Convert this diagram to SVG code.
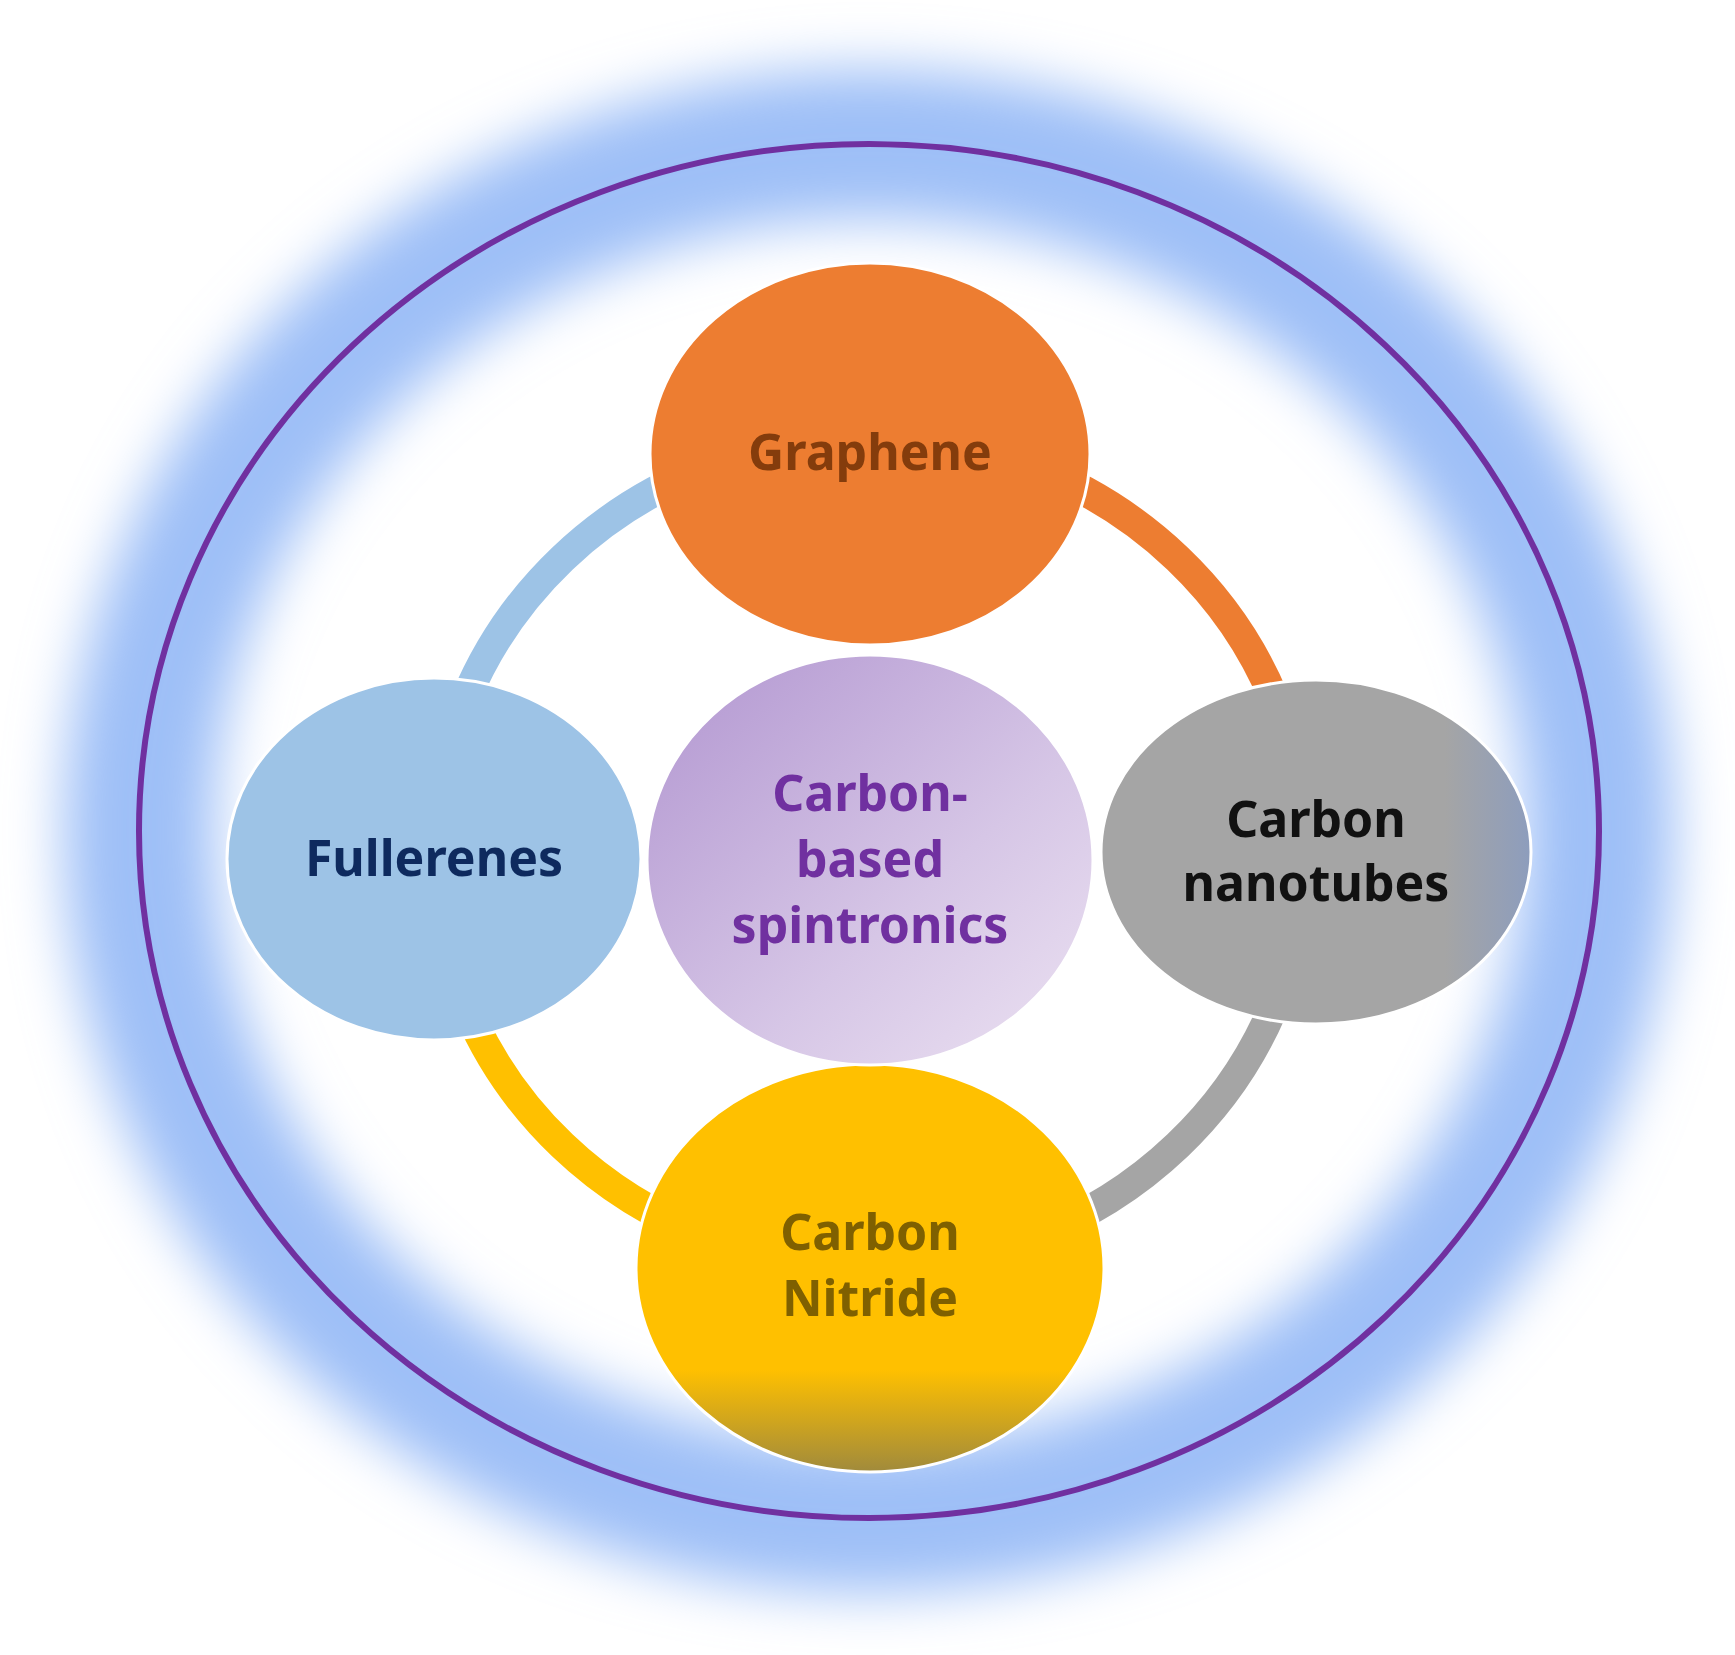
<svg xmlns="http://www.w3.org/2000/svg" width="1735" height="1655" viewBox="0 0 1735 1655">
<defs>
<filter id="blur" x="-20%" y="-20%" width="140%" height="140%"><feGaussianBlur stdDeviation="28"/></filter>
<linearGradient id="gc" x1="0" y1="0" x2="1" y2="1"><stop offset="0" stop-color="#b195d0"/><stop offset="0.6" stop-color="#d6c6e6"/><stop offset="1" stop-color="#ece2f2"/></linearGradient>
<linearGradient id="gn" x1="0" y1="0" x2="0" y2="1"><stop offset="0" stop-color="#ffc000"/><stop offset="0.75" stop-color="#ffc000"/><stop offset="1" stop-color="#a08a3c"/></linearGradient>
<linearGradient id="gt" x1="0" y1="0" x2="1" y2="0"><stop offset="0" stop-color="#a5a5a5"/><stop offset="0.8" stop-color="#a5a5a5"/><stop offset="1" stop-color="#8d9dbd"/></linearGradient>
<style>
text{font-family:"Noto Sans","Open Sans",sans-serif;font-weight:bold;font-size:50px;text-anchor:middle}
.node ellipse{stroke:#ffffff;stroke-width:3}
</style>
</defs>
<rect width="1735" height="1655" fill="#ffffff"/>
<ellipse cx="869" cy="831" rx="730" ry="687" fill="none" stroke="#9ebff7" stroke-width="150" filter="url(#blur)"/>
<ellipse cx="869" cy="831" rx="730" ry="687" fill="none" stroke="#7030a0" stroke-width="6"/>
<g id="connectors" fill="none" stroke-width="30">
<path d="M 435 852 A 435 415 0 0 1 870 437" stroke="#9dc3e6"/>
<path d="M 870 437 A 435 415 0 0 1 1305 852" stroke="#ed7d31"/>
<path d="M 1305 852 A 435 415 0 0 1 870 1267" stroke="#a5a5a5"/>
<path d="M 870 1267 A 435 415 0 0 1 435 852" stroke="#ffc000"/>
</g>
<g id="graphene" class="node"><ellipse cx="870" cy="454" rx="220" ry="191" fill="#ed7d31"/><text x="870" y="470" fill="#843c0c">Graphene</text></g>
<g id="fullerenes" class="node"><ellipse cx="434" cy="859" rx="207" ry="181" fill="#9dc3e6"/><text x="434" y="876" fill="#0e2a5e">Fullerenes</text></g>
<g id="nanotubes" class="node"><ellipse cx="1316" cy="852" rx="215" ry="172" fill="url(#gt)"/><text x="1316" y="837" fill="#111111">Carbon</text><text x="1316" y="901" fill="#111111">nanotubes</text></g>
<g id="nitride" class="node"><ellipse cx="870" cy="1268" rx="234" ry="204" fill="url(#gn)"/><text x="870" y="1250" fill="#7f6000">Carbon</text><text x="870" y="1316" fill="#7f6000">Nitride</text></g>
<g id="center" class="node"><ellipse cx="870" cy="860" rx="223" ry="205" fill="url(#gc)"/><text x="870" y="811" fill="#7030a0">Carbon-</text><text x="870" y="877" fill="#7030a0">based</text><text x="870" y="943" fill="#7030a0">spintronics</text></g>
</svg>
